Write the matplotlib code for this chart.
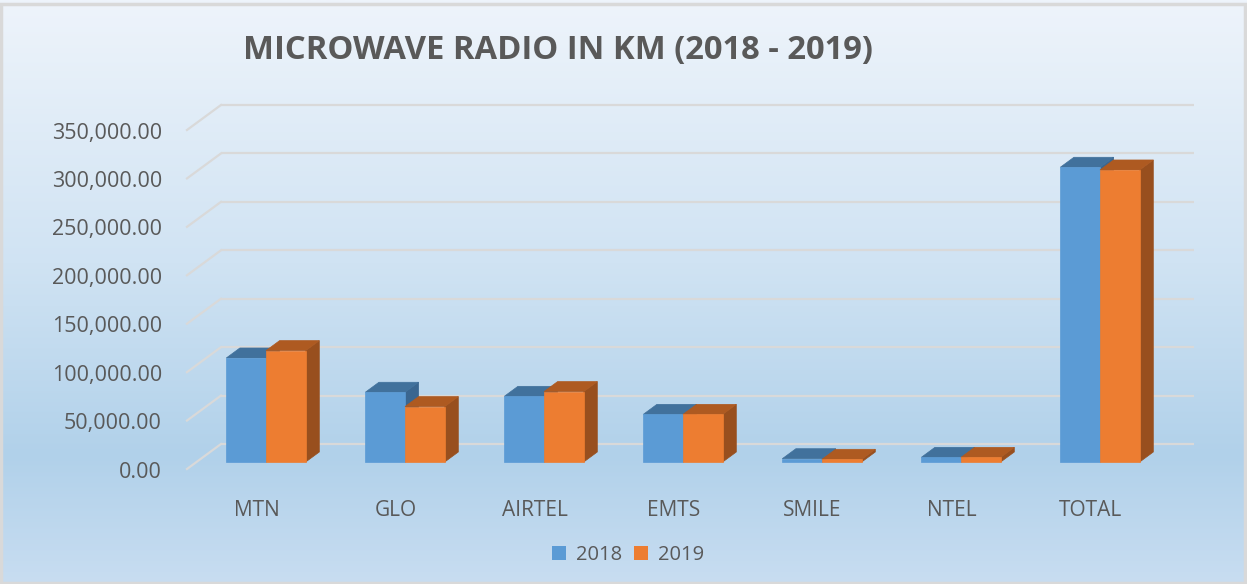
import numpy as np
import matplotlib.pyplot as plt
from matplotlib.patches import Polygon, Patch, Rectangle
from matplotlib.colors import LinearSegmentedColormap

plt.rcParams['font.family'] = ['Open Sans', 'DejaVu Sans']

# data
categories = ['MTN', 'GLO', 'AIRTEL', 'EMTS', 'SMILE', 'NTEL', 'TOTAL']
km_2018 = [107400, 72000, 67800, 49200, 3400, 4800, 304300]
km_2019 = [115000, 57200, 72700, 49200, 2800, 4800, 301500]
series_names = ['2018', '2019']
yticks = [0, 50000, 100000, 150000, 200000, 250000, 300000, 350000]

# colours (front, top, side)
blue = ('#5B9BD5', '#41719C', '#3A6690')
orange = ('#ED7D31', '#AE5A21', '#984F1E')
grid_col = '#D9D9D9'
text_col = '#595959'

W, H = 1247, 584
fig = plt.figure(figsize=(W / 100, H / 100), dpi=100)

# background gradient
bg = fig.add_axes([0, 0, 1, 1], zorder=0)
cmap = LinearSegmentedColormap.from_list('bg', [(0, '#EEF4FB'), (0.45, '#D0E3F3'),
                                              (0.78, '#B1D1EA'), (1.0, '#C8DDF1')])
bg.imshow(np.linspace(0, 1, 256).reshape(-1, 1), aspect='auto', cmap=cmap,
          extent=[0, 1, 1, 0])
bg.set_xlim(0, 1)
bg.set_ylim(1, 0)
bg.axis('off')
fig.patches.append(Rectangle((0.001, 0.001), 0.997, 0.993, transform=fig.transFigure,
                             fill=False, edgecolor='#D9D9D9', linewidth=2.5, zorder=5))

# main axes: bar-front plane, pixel mapping
cat_px = 139.0          # px per category
K = 350000 / 339.0      # value per px
x0_px, base_px = 266, 462
left_px, right_px, top_px, bot_px = 150, 1230, 90, 490
ax = fig.add_axes([left_px / W, 1 - bot_px / H, (right_px - left_px) / W, (bot_px - top_px) / H],
                  zorder=1)
ax.set_xlim((left_px - x0_px) / cat_px, (right_px - x0_px) / cat_px)
ax.set_ylim((base_px - bot_px) * K, (base_px - top_px) * K)
ax.axis('off')
ax.patch.set_alpha(0)

# depth geometry (px): full floor depth, bar front/back fraction
depth = np.array([34 / cat_px, 25 * K])
front_off = -0.28 * depth
wall_off = 0.72 * depth
bar_d = 0.40 * depth
wall_l, wall_r = -0.5, 6.5

# gridlines: back wall + left side wall
for v in yticks:
    ax.plot([wall_l + wall_off[0], wall_r + wall_off[0]], [v + wall_off[1]] * 2,
            color=grid_col, lw=1.6, zorder=1, solid_capstyle='butt')
    ax.plot([wall_l + front_off[0], wall_l + wall_off[0]], [v + front_off[1], v + wall_off[1]],
            color=grid_col, lw=1.6, zorder=1)
    ax.text(wall_l + front_off[0] - 25 / cat_px, v + front_off[1] - 3 * K,
            f'{v:,.2f}', ha='right', va='center', fontsize=15.5, color=text_col)

bw = 39.7 / cat_px
x = np.arange(len(categories))
z = 2
for xi in x:
    for s, (vals, cols) in enumerate([(km_2018, blue), (km_2019, orange)]):
        xl = xi - bw + s * bw
        xr = xl + bw
        v = vals[xi]
        side = [(xr, 0), (xr + bar_d[0], bar_d[1]), (xr + bar_d[0], v + bar_d[1]), (xr, v)]
        top = [(xl, v), (xr, v), (xr + bar_d[0], v + bar_d[1]), (xl + bar_d[0], v + bar_d[1])]
        ax.add_patch(Polygon(side, closed=True, facecolor=cols[2], edgecolor=cols[2],
                             lw=0.5, zorder=z))
        ax.add_patch(Polygon(top, closed=True, facecolor=cols[1], edgecolor=cols[1],
                             lw=0.5, zorder=z))
        ax.bar(xl, v, width=bw, align='edge', color=cols[0], edgecolor=cols[0],
               lw=0.5, zorder=z)
        z += 1

for xi, name in zip(x, categories):
    ax.text(xi + front_off[0], (base_px - 510) * K, name, ha='center', va='center',
            fontsize=15, color=text_col)

fig.text(558 / W, 1 - 50 / H, 'MICROWAVE RADIO IN KM (2018 - 2019)', ha='center',
         va='center', fontsize=23.6, fontweight='bold', color=text_col, zorder=3)

handles = [Patch(facecolor=blue[0]), Patch(facecolor=orange[0])]
leg = fig.legend(handles, series_names, loc='center', bbox_to_anchor=(628 / W, 1 - 555 / H),
                 ncol=2, frameon=False, fontsize=14.5, handlelength=0.7, handleheight=0.7,
                 handletextpad=0.5, columnspacing=0.6, labelcolor=text_col)

fig.savefig('out.png', dpi=100)
